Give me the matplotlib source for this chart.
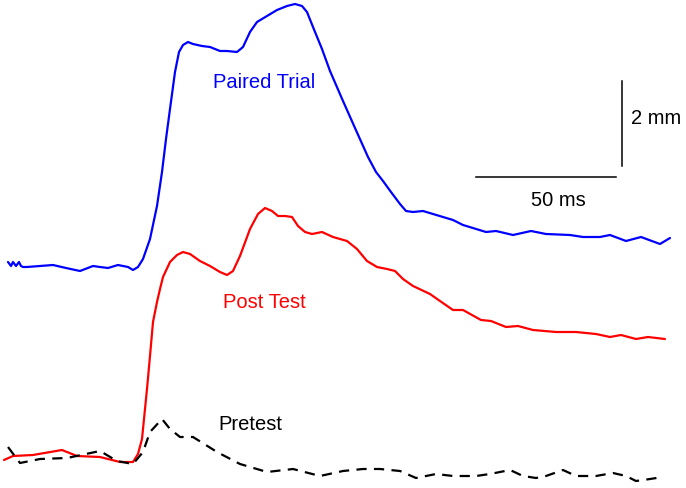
import matplotlib
matplotlib.use("Agg")
import matplotlib.pyplot as plt

plt.rcParams['font.family'] = ['Liberation Sans', 'DejaVu Sans']

# Traces (time axis, displacement axis; screen-like units)
paired_t = [8, 11, 13, 16, 19, 21, 23, 27, 40, 53, 66, 80, 93, 100, 108, 118, 128, 133, 138,
            143, 150, 157, 162, 166, 170, 175, 179, 183, 188, 193, 202, 210, 220, 227, 237,
            243, 250, 257, 267, 277, 287, 295, 302, 307, 313, 322, 330, 343, 355, 368, 376,
            383, 391, 400, 406, 413, 423, 433, 443, 453, 463, 486, 496,
            513, 531, 546, 570, 583, 600, 610, 626, 641, 660, 670]
paired_y = [263, 267, 263, 267, 263, 267, 268, 268, 267, 266, 269, 272, 267, 268, 269, 266, 268, 271, 268,
            260, 240, 207, 173, 140, 110, 73, 53, 46, 43, 45, 47, 48, 52, 52, 53,
            48, 33, 23, 17, 11, 7, 5, 7, 13, 28, 50, 72, 102, 129, 158, 173,
            182, 193, 205, 212, 213, 212, 215, 218, 221, 226, 233, 232,
            236, 232, 235, 236, 238, 238, 236, 242, 238, 245, 239]

post_t = [4, 13, 33, 62, 77, 100, 120, 133, 138, 142, 147, 150, 153, 157, 160, 163, 170, 177,
          183, 190, 200, 210, 220, 227, 233, 240, 250, 258, 265, 272, 278, 285, 292, 298,
          305, 312, 322, 333, 347, 357, 367, 377, 387, 395, 403, 413, 430, 440,
          453, 463, 481, 491, 506, 518, 533, 556, 576, 596, 610, 621, 636, 648, 665]
post_y = [461, 457, 456, 451, 457, 458, 463, 463, 455, 440, 390, 357, 323, 303, 290, 278, 263, 256,
          253, 255, 262, 267, 273, 276, 272, 257, 230, 215, 209, 212, 217, 217, 218, 227,
          233, 235, 233, 238, 242, 250, 262, 268, 270, 272, 280, 287, 295, 302,
          311, 311, 321, 322, 328, 327, 331, 333, 333, 335, 338, 336, 340, 338, 340]

pre_t = [8, 20, 40, 67, 100, 117, 133, 143, 150, 162, 170, 180, 193, 217, 240, 267, 293, 320,
         343, 363, 380, 400, 416, 436, 453, 476, 490, 510, 523, 536, 546, 563, 576, 596,
         613, 626, 636, 650, 663]
pre_y = [448, 464, 460, 459, 452, 462, 465, 453, 433, 420, 430, 438, 438, 453, 465, 473, 470, 477,
         472, 470, 470, 472, 479, 475, 477, 477, 475, 471, 477, 479, 477, 471, 477, 477,
         474, 477, 482, 480, 478]

labels = ["Paired Trial", "Post Test", "Pretest"]

fig = plt.figure(figsize=(6.86, 4.89), dpi=100)
ax = fig.add_axes([0, 0, 1, 1])
ax.set_xlim(0, 686)
ax.set_ylim(489, 0)
ax.axis('off')

ax.plot(paired_t, paired_y, color='#0000ff', lw=1.6, solid_joinstyle='round', solid_capstyle='round')
ax.plot(post_t, post_y, color='#ff0000', lw=1.6, solid_joinstyle='round', solid_capstyle='round')
ax.plot(pre_t, pre_y, color='black', lw=1.6, dashes=(4.6, 3.3))

ax.text(264, 82, labels[0], color='#0000ff', fontsize=14.5, ha='center', va='center')
ax.text(264, 303, labels[1], color='#ff0000', fontsize=14.5, ha='center', va='center')
ax.text(250, 425, labels[2], color='black', fontsize=14.5, ha='center', va='center')

# scale bars
ax.plot([476, 616], [178, 178], color='black', lw=1.1)
ax.plot([622, 622], [82, 167], color='black', lw=1.1)
ax.text(558, 200, "50 ms", fontsize=14.5, ha='center', va='center')
ax.text(631, 118, "2 mm", fontsize=14.5, ha='left', va='center')

fig.savefig("out.png", dpi=100)
